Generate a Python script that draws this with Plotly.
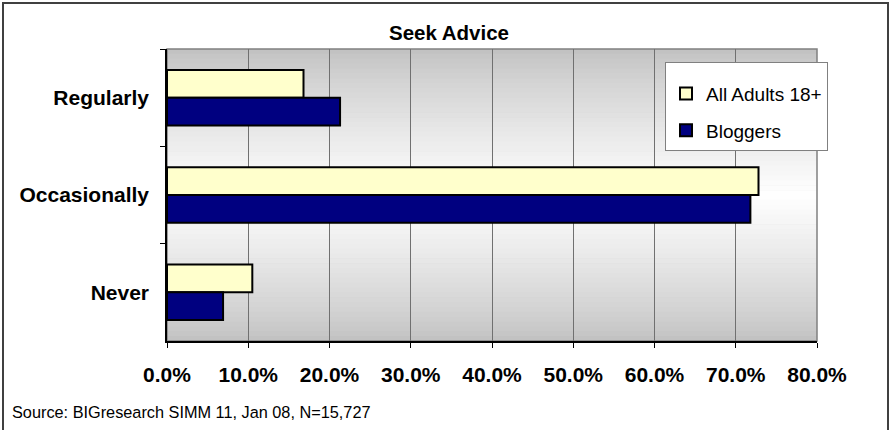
import plotly.graph_objects as go

categories = ["Regularly", "Occasionally", "Never"]
all_adults = [0.168, 0.728, 0.105]
bloggers = [0.213, 0.718, 0.069]
series_names = ["All Adults 18+", "Bloggers"]
x_ticks = [0.0, 0.1, 0.2, 0.3, 0.4, 0.5, 0.6, 0.7, 0.8]

FONT = "Arial, Liberation Sans, sans-serif"
W, H = 890, 430
L, R, T, B = 167, 73, 49, 89
PW, PH = W - L - R, H - T - B

fig = go.Figure()
fig.add_trace(go.Bar(y=categories, x=all_adults, name=series_names[0], orientation="h",
                     legendgroup="a",
                     marker=dict(color="#FFFFCC", line=dict(color="black", width=2))))
fig.add_trace(go.Bar(y=categories, x=bloggers, name=series_names[1], orientation="h",
                     legendgroup="b",
                     marker=dict(color="#000080", line=dict(color="black", width=2))))

# gray -> white -> gray background of the plot area
shapes = []
n = 60
for i in range(n):
    t = (i + 0.5) / n
    v = int(round(192 + 63 * (1 - abs(t - 0.5) / 0.5) ** 0.8))
    shapes.append(dict(type="rect", xref="x domain", yref="y domain", x0=0, x1=1,
                       y0=1 - i / n, y1=1 - (i + 1) / n - 0.002, layer="below",
                       line=dict(width=0), fillcolor=f"rgb({v},{v},{v})"))
# plot frame (gray top / right)
shapes.append(dict(type="rect", xref="x domain", yref="y domain", x0=0, x1=1, y0=0, y1=1,
                   line=dict(color="#808080", width=1.5), layer="below"))
# outer chart border
shapes.append(dict(type="rect", xref="paper", yref="paper",
                   x0=(3 - L) / PW, x1=(888 - L) / PW,
                   y0=(T + PH - 445) / PH, y1=(T + PH - 3) / PH,
                   line=dict(color="#404040", width=2)))

fig.update_layout(
    width=W, height=H,
    margin=dict(l=L, r=R, t=T, b=B, autoexpand=False),
    paper_bgcolor="white", plot_bgcolor="#C0C0C0",
    font=dict(family=FONT, color="black"),
    barmode="group", bargap=0.43, bargroupgap=0,
    shapes=shapes,
    title=dict(text="Seek Advice", x=449 / W, xanchor="center", y=1 - 33 / H,
               yanchor="middle", font=dict(size=20.5, family=FONT, weight="bold")),
    legend=dict(x=(665 - L) / PW, y=1 - 13 / PH, xanchor="left", yanchor="top",
                bgcolor="white", bordercolor="#808080", borderwidth=1,
                font=dict(size=19, family=FONT), tracegroupgap=9,
                title=dict(text=" ", font=dict(size=9))),
    annotations=[dict(text="Source: BIGresearch SIMM 11, Jan 08, N=15,727",
                      xref="paper", yref="paper", x=(10 - L) / PW, y=(T + PH - 412) / PH,
                      xanchor="left", yanchor="middle", showarrow=False,
                      font=dict(size=16.3, family=FONT))],
)
fig.update_xaxes(range=[0, 0.8], tickvals=x_ticks, tickformat=".1%", automargin=False,
                 ticks="outside", ticklen=5, tickcolor="black",
                 showline=True, linecolor="black", linewidth=1.5,
                 showgrid=True, gridcolor="#707070", gridwidth=1, zeroline=False,
                 tickfont=dict(size=21, family=FONT, weight="bold"), ticklabelstandoff=9)
fig.update_yaxes(type="category", categoryorder="array", categoryarray=categories,
                 autorange="reversed", tickson="boundaries", automargin=False,
                 ticks="outside", ticklen=5, tickcolor="black",
                 showline=True, linecolor="black", linewidth=1.5, showgrid=False,
                 tickfont=dict(size=21, family=FONT, weight="bold"), ticklabelstandoff=12)

# the page's default 8px body margin would shift the whole chart
fig.write_html("out.html", config={"displayModeBar": False},
               post_script="document.body.style.margin='0';")
